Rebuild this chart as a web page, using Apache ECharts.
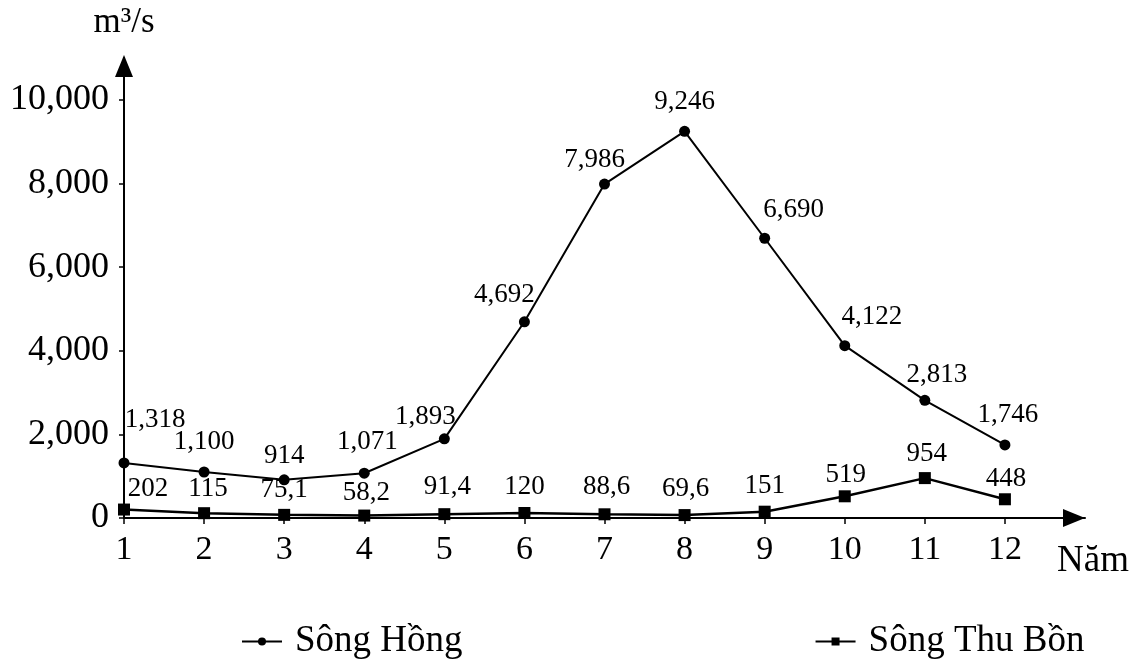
<!DOCTYPE html>
<html>
<head>
<meta charset="utf-8">
<script src="https://cdn.jsdelivr.net/npm/echarts@6/dist/echarts.min.js"></script>
<style>
html,body{margin:0;padding:0;background:#fff;}
#chart{width:1145px;height:666px;}
</style>
</head>
<body>
<div id="chart"></div>
<script>
// Data
var months = ['1','2','3','4','5','6','7','8','9','10','11','12'];
var songHong = [1318, 1100, 914, 1071, 1893, 4692, 7986, 9246, 6690, 4122, 2813, 1746];
var songHongLabels = ['1,318','1,100','914','1,071','1,893','4,692','7,986','9,246','6,690','4,122','2,813','1,746'];
var thuBon = [202, 115, 75.1, 58.2, 91.4, 120, 88.6, 69.6, 151, 519, 954, 448];
var thuBonLabels = ['202','115','75,1','58,2','91,4','120','88,6','69,6','151','519','954','448'];
var yTicks = [0, 2000, 4000, 6000, 8000, 10000];
var seriesNames = ['Sông Hồng', 'Sông Thu Bồn'];

// Label style offsets (presentation only)
var hongOffsets = [[31,-15],[0,-2],[0,4],[3,-3],[-19,6],[-20,1],[-10,4],[0,-1],[29,0],[27,-1],[12,3],[3,-2]];
var bonOffsets = [[24,4],[4,0],[0,0],[2,2],[3,-3],[0,-2],[2,-3],[1,-2],[0,-1],[1,3],[2,0],[1,4]];

var FONT = 'Liberation Serif';
var chart = echarts.init(document.getElementById('chart'), null, {renderer: 'canvas'});

function fmt(v){ return String(v).replace(/\B(?=(\d{3})+(?!\d))/g, ','); }

function buildData(values, labels, offsets) {
  return values.map(function (v, i) {
    return {
      value: v,
      label: { formatter: labels[i], offset: offsets[i] }
    };
  });
}

var xCats = months.concat(['']);

var option = {
  backgroundColor: '#fff',
  animation: false,
  grid: { left: 124, right: 60, top: 58, bottom: 148, containLabel: false },
  xAxis: {
    type: 'category',
    data: xCats,
    boundaryGap: false,
    axisLine: {
      show: true,
      lineStyle: { color: '#000', width: 2 },
      symbol: ['none', 'triangle'],
      symbolSize: [18, 22],
      symbolOffset: [0, -11]
    },
    axisTick: {
      show: true, inside: false, length: 6,
      lineStyle: { color: '#000', width: 1.5 },
      interval: function (index) { return index < months.length; }
    },
    axisLabel: {
      color: '#000', fontFamily: FONT, fontSize: 34, margin: 15,
      interval: function (index) { return index < months.length; }
    },
    splitLine: { show: false }
  },
  yAxis: {
    type: 'value',
    min: 0, max: 11000, interval: 2000,
    name: 'm³/s',
    nameLocation: 'end',
    nameGap: 18,
    nameTextStyle: { color: '#000', fontFamily: FONT, fontSize: 35 },
    axisLine: {
      show: true,
      lineStyle: { color: '#000', width: 2 },
      symbol: ['none', 'triangle'],
      symbolSize: [18, 22],
      symbolOffset: [0, -8]
    },
    axisTick: {
      show: true, length: 5, customValues: yTicks,
      lineStyle: { color: '#000', width: 1.5 }
    },
    axisLabel: {
      color: '#000', fontFamily: FONT, fontSize: 36, margin: 15,
      customValues: yTicks,
      formatter: function (v) { return v > 10000 ? '' : fmt(v); }
    },
    splitLine: { show: false }
  },
  legend: {
    top: 618,
    left: 236,
    itemGap: 352,
    itemWidth: 40,
    itemHeight: 10,
    textStyle: { color: '#000', fontFamily: FONT, fontSize: 37, padding: [0, 0, 0, 8] },
    data: seriesNames
  },
  graphic: [
    {
      type: 'text',
      left: 1057,
      top: 543,
      style: { text: 'Năm', fill: '#000', font: '37px "Liberation Serif"' }
    }
  ],
  series: [
    {
      name: seriesNames[0],
      type: 'line',
      data: buildData(songHong, songHongLabels, hongOffsets),
      symbol: 'circle',
      symbolSize: 11,
      lineStyle: { color: '#000', width: 2 },
      itemStyle: { color: '#000' },
      label: { show: true, position: 'top', distance: 9, color: '#000', fontFamily: FONT, fontSize: 27 },
      z: 3
    },
    {
      name: seriesNames[1],
      type: 'line',
      data: buildData(thuBon, thuBonLabels, bonOffsets),
      symbol: 'rect',
      symbolSize: 12,
      lineStyle: { color: '#000', width: 2.5 },
      itemStyle: { color: '#000' },
      label: { show: true, position: 'top', distance: 5, color: '#000', fontFamily: FONT, fontSize: 27 },
      z: 4
    }
  ]
};
chart.setOption(option);
</script>
</body>
</html>
